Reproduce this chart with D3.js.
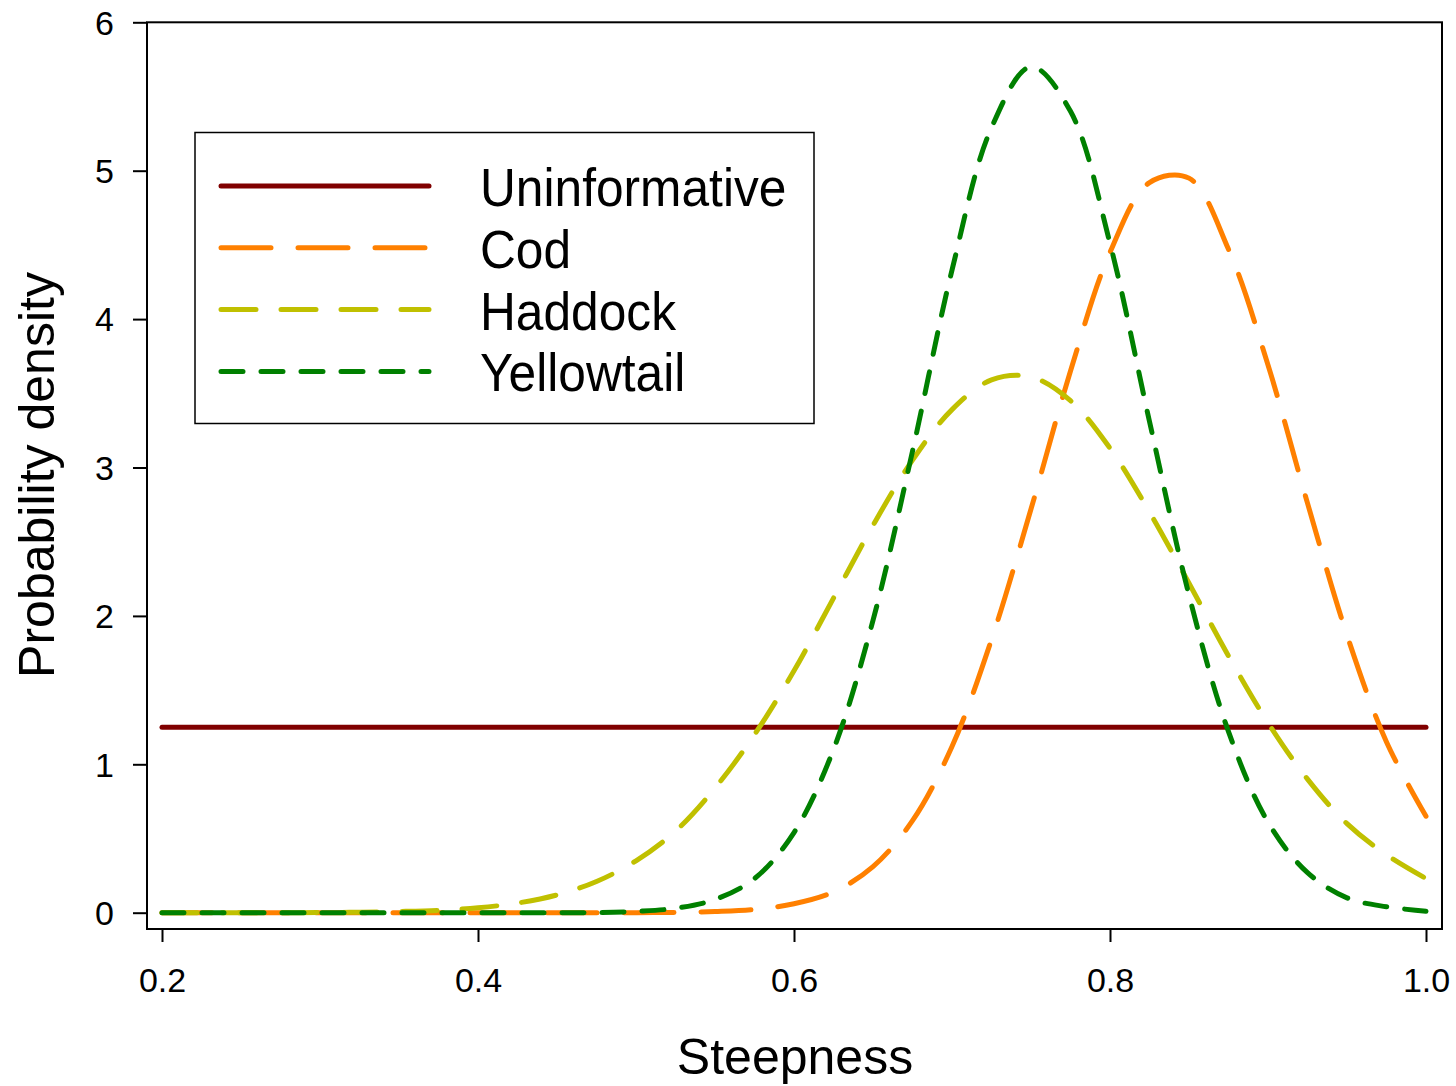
<!DOCTYPE html>
<html>
<head>
<meta charset="utf-8">
<script src="https://cdn.jsdelivr.net/npm/d3@7"></script>
<style>
  body { margin: 0; background: #fff; }
  text { font-family: "Liberation Sans", Arial, sans-serif; fill: #000; }
</style>
</head>
<body>
<div class="wrapper"></div>
<script>
// steepness grid (x) and densities
const steepness = [0.2, 0.225, 0.25, 0.275, 0.3, 0.325, 0.35, 0.375, 0.4, 0.425, 0.45, 0.475,
  0.5, 0.525, 0.55, 0.575, 0.6, 0.625, 0.65, 0.675, 0.7, 0.725, 0.75, 0.775,
  0.8, 0.825, 0.85, 0.875, 0.9, 0.925, 0.95, 0.975, 1.0];

const uninformative = [1.25, 1.25, 1.25, 1.25, 1.25, 1.25, 1.25, 1.25, 1.25, 1.25, 1.25, 1.25,
  1.25, 1.25, 1.25, 1.25, 1.25, 1.25, 1.25, 1.25, 1.25, 1.25, 1.25, 1.25,
  1.25, 1.25, 1.25, 1.25, 1.25, 1.25, 1.25, 1.25, 1.25];

const cod = [0, 0, 0, 0, 0, 0, 0, 0, 0, 0, 0, 0,
  0, 0.002, 0.008, 0.022, 0.06, 0.14, 0.31, 0.62, 1.12, 1.84, 2.72, 3.65,
  4.45, 4.92, 4.95, 4.47, 3.69, 2.76, 1.87, 1.15, 0.65];

const haddock = [0, 0, 0, 0, 0.001, 0.003, 0.008, 0.016, 0.033, 0.065, 0.12, 0.21,
  0.35, 0.55, 0.84, 1.20, 1.63, 2.12, 2.61, 3.05, 3.39, 3.59, 3.61, 3.45,
  3.13, 2.70, 2.22, 1.73, 1.28, 0.90, 0.60, 0.39, 0.23];

const yellowtail = [0, 0, 0, 0, 0, 0, 0, 0, 0, 0, 0, 0,
  0.009, 0.03, 0.089, 0.23, 0.54, 1.10, 1.97, 3.11, 4.33, 5.29, 5.70, 5.40,
  4.51, 3.31, 2.14, 1.22, 0.61, 0.27, 0.10, 0.04, 0.01];

const seriesNames = ["Uninformative", "Cod", "Haddock", "Yellowtail"];
const seriesValues = [uninformative, cod, haddock, yellowtail];
const seriesColors = ["#800000", "#ff8000", "#c0c000", "#008000"];
const seriesDash = ["none", "50,27", "35,25", "22,18"];

const xTicks = [0.2, 0.4, 0.6, 0.8, 1.0];
const yTicks = [0, 1, 2, 3, 4, 5, 6];

const width = 1456, height = 1086;

svg = d3
  .select(".wrapper")
  .append("svg")
  .attr("width", width)
  .attr("height", height);

svg.append("rect").attr("width", width).attr("height", height).attr("fill", "#fff");

x = d3.scaleLinear().domain([0.2, 1.0]).range([162, 1426]);
y = d3.scaleLinear().domain([0, 6]).range([912.7, 22.3]);

//////////////////////////
///////// FRAME //////////
//////////////////////////

svg
  .append("rect")
  .attr("x", 147)
  .attr("y", y(6))
  .attr("width", 1442 - 147)
  .attr("height", 929 - y(6))
  .attr("fill", "none")
  .attr("stroke", "#000")
  .attr("stroke-width", 2);

//////////////////////////
////////// AXES //////////
//////////////////////////

xAxis = svg
  .append("g")
  .attr("transform", "translate(0,929)")
  .call(d3.axisBottom(x).tickValues(xTicks).tickSize(13).tickFormat(d3.format(".1f")));

yAxis = svg
  .append("g")
  .attr("transform", "translate(147,0)")
  .call(d3.axisLeft(y).tickValues(yTicks).tickSize(14).tickFormat(d3.format("d")));

svg.selectAll(".domain").remove();
svg.selectAll(".tick line").attr("stroke", "#000").attr("stroke-width", 2);

xAxis
  .selectAll(".tick text")
  .attr("y", 63)
  .attr("dy", null)
  .style("font-size", "34px")
  .attr("text-anchor", "middle");

yAxis
  .selectAll(".tick text")
  .attr("x", -33)
  .attr("dy", null)
  .attr("y", 11.7)
  .style("font-size", "34px")
  .attr("text-anchor", "end");

svg
  .append("text")
  .attr("text-anchor", "middle")
  .style("font-size", "50px")
  .attr("transform", "translate(795,1074)")
  .text("Steepness");

svg
  .append("text")
  .attr("text-anchor", "middle")
  .style("font-size", "50px")
  .attr("transform", "translate(54,475) rotate(-90)")
  .text("Probability density");

//////////////////////////
///////// CURVES /////////
//////////////////////////

line = d3
  .line()
  .x((d) => x(d[0]))
  .y((d) => y(d[1]))
  .curve(d3.curveCatmullRom.alpha(0.5));

curves = svg
  .append("g")
  .selectAll("path")
  .data(seriesValues)
  .enter()
  .append("path")
  .attr("d", (vals) => line(steepness.map((s, i) => [s, vals[i]])))
  .attr("fill", "none")
  .attr("stroke", (d, i) => seriesColors[i])
  .attr("stroke-width", 5)
  .attr("stroke-linecap", "round")
  .attr("stroke-linejoin", "round")
  .attr("stroke-dasharray", (d, i) => seriesDash[i]);

//////////////////////////
///////// LEGEND /////////
//////////////////////////

legend = svg.append("g").attr("class", "legend");

legend
  .append("rect")
  .attr("x", 195)
  .attr("y", 132.5)
  .attr("width", 619)
  .attr("height", 291)
  .attr("fill", "#fff")
  .attr("stroke", "#000")
  .attr("stroke-width", 1.5);

rows = legend
  .selectAll("g.row")
  .data(seriesNames)
  .enter()
  .append("g")
  .attr("class", "row")
  .attr("transform", (d, i) => "translate(0," + (186 + i * 61.8) + ")");

rows
  .append("line")
  .attr("x1", 221)
  .attr("x2", 429)
  .attr("stroke", (d, i) => seriesColors[i])
  .attr("stroke-width", 5)
  .attr("stroke-linecap", "round")
  .attr("stroke-dasharray", (d, i) => seriesDash[i]);

rows
  .append("text")
  .style("font-size", "54px")
  .attr("transform", "translate(480,20) scale(0.92,1)")
  .text((d) => d);
</script>
</body>
</html>
